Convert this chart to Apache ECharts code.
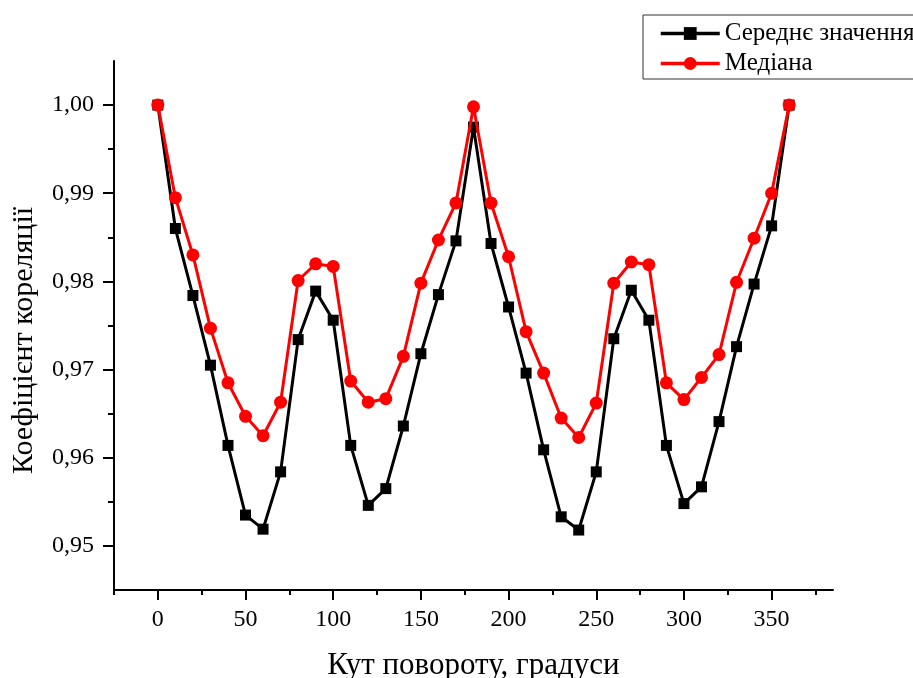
<!DOCTYPE html>
<html>
<head>
<meta charset="utf-8">
<script src="https://cdn.jsdelivr.net/npm/echarts@6/dist/echarts.min.js"></script>
<style>
html,body{margin:0;padding:0;background:#fff;}
#chart{width:913px;height:678px;}
</style>
</head>
<body>
<div id="chart"></div>
<script>
const angles = [0,10,20,30,40,50,60,70,80,90,100,110,120,130,140,150,160,170,180,190,200,210,220,230,240,250,260,270,280,290,300,310,320,330,340,350,360];
const meanValues = [1.0000,0.9860,0.9784,0.9705,0.9614,0.9535,0.9519,0.9584,0.9734,0.9789,0.9756,0.9614,0.9546,0.9565,0.9636,0.9718,0.9785,0.9846,0.9975,0.9843,0.9771,0.9696,0.9609,0.9533,0.9518,0.9584,0.9735,0.9790,0.9756,0.9614,0.9548,0.9567,0.9641,0.9726,0.9797,0.9863,1.0000];
const medianValues = [1.0000,0.9895,0.9830,0.9747,0.9685,0.9647,0.9625,0.9663,0.9801,0.9820,0.9817,0.9687,0.9663,0.9667,0.9715,0.9798,0.9847,0.9889,0.9998,0.9889,0.9828,0.9743,0.9696,0.9645,0.9623,0.9662,0.9798,0.9822,0.9819,0.9685,0.9666,0.9691,0.9717,0.9799,0.9849,0.9900,1.0000];
const xMajorTicks = [0,50,100,150,200,250,300,350];
const xMinorTicks = [-25,25,75,125,175,225,275,325,375];
const yMajorTicks = [0.95,0.96,0.97,0.98,0.99,1.00];
const yMinorTicks = [0.955,0.965,0.975,0.985,0.995];
const seriesNames = ['Середнє значення','Медіана'];
const xTitle = 'Кут повороту, градуси';
const yTitle = 'Коефіцієнт кореляції';

const FONT = '"Liberation Serif", "Times New Roman", serif';
const X_MIN = -25, X_MAX = 385, Y_MIN = 0.945, Y_MAX = 1.005;

const chart = echarts.init(document.getElementById('chart'), null, {renderer:'canvas'});
const axisLineStyle = {color:'#000', width:2};
chart.setOption({
  animation:false,
  backgroundColor:'#fff',
  grid:{left:114, right:80, top:61, bottom:88, containLabel:false, outerBoundsMode:'none'},
  legend:{
    orient:'vertical', left:643, top:15,
    padding:[6,10,3,16], itemGap:5,
    itemWidth:59, itemHeight:16,
    borderColor:'#333', borderWidth:1,
    lineStyle:{width:3.5},
    textStyle:{fontFamily:FONT, fontSize:25, color:'#000'},
    data:seriesNames
  },
  xAxis:[{
    type:'value', min:X_MIN, max:X_MAX,
    name:xTitle, nameLocation:'middle', nameGap:60,
    nameTextStyle:{fontFamily:FONT, fontSize:31, color:'#000'},
    axisLine:{show:true, onZero:false, lineStyle:axisLineStyle},
    axisTick:{show:true, inside:false, length:10, lineStyle:{color:'#000', width:2}, customValues:xMajorTicks},
    axisLabel:{show:true, margin:18, fontFamily:FONT, fontSize:24, color:'#000', customValues:xMajorTicks},
    splitLine:{show:false}
  },{
    type:'value', min:X_MIN, max:X_MAX, position:'bottom',
    axisLine:{show:false, onZero:false},
    axisTick:{show:true, inside:false, length:5, lineStyle:{color:'#000', width:2}, customValues:xMinorTicks},
    axisLabel:{show:false},
    splitLine:{show:false}
  }],
  yAxis:[{
    type:'value', min:Y_MIN, max:Y_MAX,
    name:yTitle, nameLocation:'middle', nameGap:75, nameRotate:90,
    nameTextStyle:{fontFamily:FONT, fontSize:30, color:'#000', padding:[0,30,0,0]},
    axisLine:{show:true, onZero:false, lineStyle:axisLineStyle},
    axisTick:{show:true, inside:false, length:11, lineStyle:{color:'#000', width:2}, customValues:yMajorTicks},
    axisLabel:{show:true, margin:20, fontFamily:FONT, fontSize:24, color:'#000', customValues:yMajorTicks,
      formatter:function(v){return v.toFixed(2).replace('.', ',');}},
    splitLine:{show:false}
  },{
    type:'value', min:Y_MIN, max:Y_MAX, position:'left',
    axisLine:{show:false, onZero:false},
    axisTick:{show:true, inside:false, length:6, lineStyle:{color:'#000', width:2}, customValues:yMinorTicks},
    axisLabel:{show:false},
    splitLine:{show:false}
  }],
  series:[{
    name:seriesNames[0], type:'line',
    data:angles.map((a,i)=>[a, meanValues[i]]),
    symbol:'rect', symbolSize:11,
    lineStyle:{color:'#000', width:3},
    itemStyle:{color:'#000'},
    z:2
  },{
    name:seriesNames[1], type:'line',
    data:angles.map((a,i)=>[a, medianValues[i]]),
    symbol:'circle', symbolSize:13,
    lineStyle:{color:'#f00', width:3},
    itemStyle:{color:'#f00'},
    z:3
  }]
});
</script>
</body>
</html>
